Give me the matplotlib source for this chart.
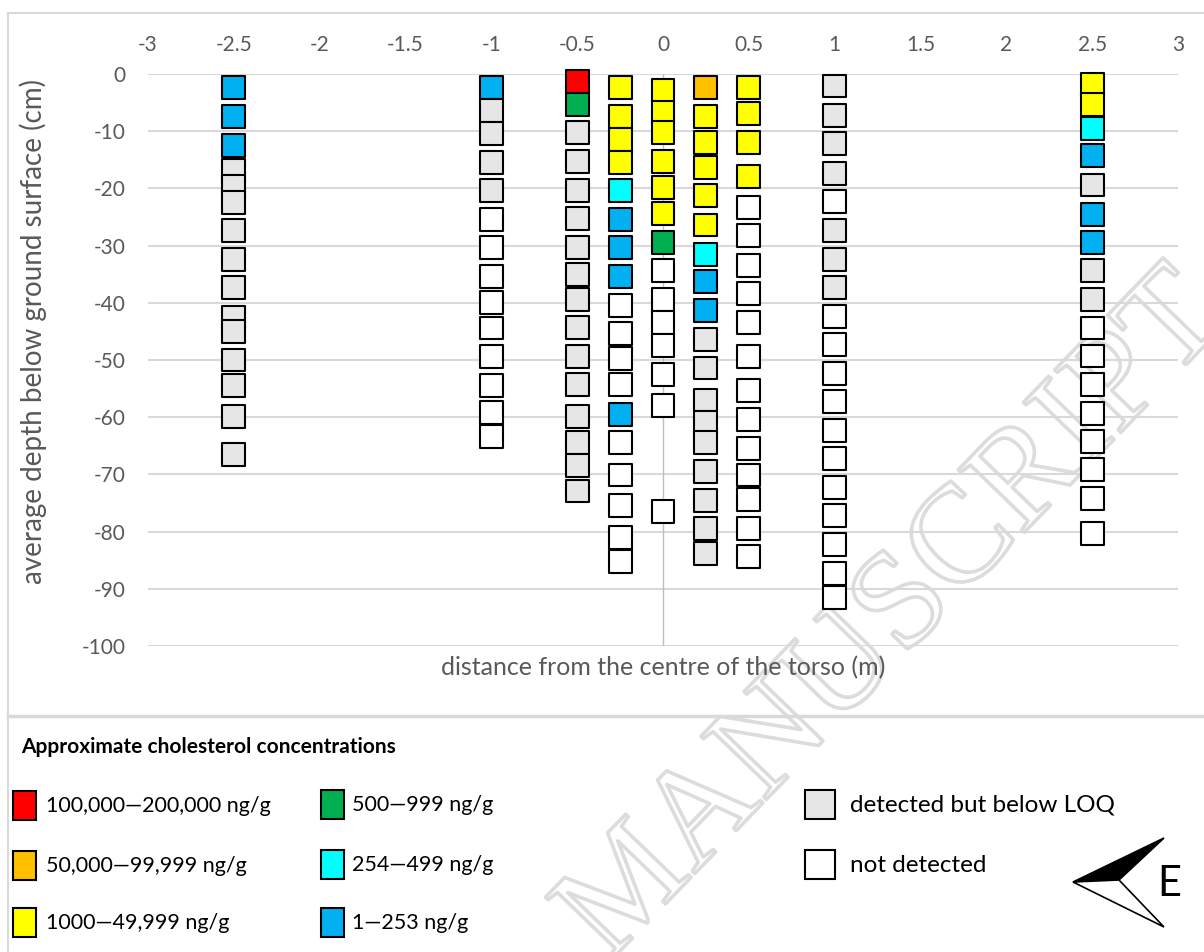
import numpy as np
import matplotlib
matplotlib.use('Agg')
import matplotlib.pyplot as plt
from matplotlib.patches import Rectangle, Polygon
import matplotlib.patheffects as pe

plt.rcParams['font.family'] = ['Lato', 'DejaVu Sans']
plt.rcParams['axes.unicode_minus'] = False

# horizontal position of each sampling column (m from torso centre)
columns = [-2.5, -1, -0.5, -0.25, 0, 0.25, 0.5, 1, 2.5]

# average sample depth (cm below surface), top to bottom for each column
depths = [
    [2.4, 7.4, 12.5, 16.9, 19.6, 22.4, 27.4, 32.4, 37.4, 42.6, 45.0, 50.0, 54.4, 59.9, 66.5],
    [2.3, 6.4, 10.4, 15.4, 20.4, 25.4, 30.4, 35.4, 39.9, 44.4, 49.4, 54.4, 59.1, 63.4],
    [1.3, 5.4, 10.3, 15.3, 20.4, 25.3, 30.4, 35.0, 39.4, 44.3, 49.4, 54.3, 59.9, 64.4, 68.5, 72.9],
    [2.3, 7.4, 11.4, 15.4, 20.4, 25.4, 30.4, 35.4, 40.4, 45.4, 49.8, 54.3, 59.5, 64.4, 70.1, 75.5, 81.1, 85.2],
    [2.9, 6.8, 10.3, 15.3, 19.8, 24.4, 29.5, 34.4, 39.4, 43.4, 47.5, 52.5, 58.0, 76.5],
    [2.4, 7.4, 11.9, 16.4, 21.3, 26.4, 31.5, 36.3, 41.4, 46.4, 51.4, 57.0, 60.9, 64.5, 69.5, 74.5, 79.5, 83.9],
    [2.4, 6.9, 11.9, 17.9, 23.3, 28.3, 33.4, 38.4, 43.4, 49.4, 55.4, 60.4, 65.4, 70.1, 74.4, 79.5, 84.4],
    [2.1, 7.3, 12.2, 17.4, 22.3, 27.3, 32.5, 37.4, 42.4, 47.3, 52.3, 57.3, 62.3, 67.3, 72.3, 77.2, 82.2, 87.3, 91.6],
    [1.9, 5.4, 9.5, 14.3, 19.4, 24.5, 29.4, 34.4, 39.4, 44.4, 49.3, 54.3, 59.3, 64.2, 69.2, 74.2, 80.3],
]

# concentration class of each sample (one letter per sample, same order as depths)
# R 100,000-200,000  O 50,000-99,999  Y 1000-49,999  G 500-999
# C 254-499  B 1-253  L detected but below LOQ  N not detected
classes = [
    "BBBLLLLLLLLLLLL",
    "BLLLLNNNNNNNNN",
    "RGLLLLLLLLLLLLLL",
    "YYYYCBBBNNNNBNNNNN",
    "YYYYYYGNNNNNNN",
    "OYYYYYCBBLLLLLLLLL",
    "YYYYNNNNNNNNNNNNN",
    "LLLLNLLLNNNNNNNNNNN",
    "YYCBLBBLLNNNNNNNN",
]

class_colors = {'R': '#FF0000', 'O': '#FFC000', 'Y': '#FFFF00', 'G': '#00B050',
                'C': '#00FFFF', 'B': '#00B0F0', 'L': '#E6E6E6', 'N': '#FFFFFF'}

legend_labels = {'R': '100,000\u2014200,000 ng/g', 'O': '50,000\u201499,999 ng/g',
                 'Y': '1000\u201449,999 ng/g', 'G': '500\u2014999 ng/g',
                 'C': '254\u2014499 ng/g', 'B': '1\u2014253 ng/g',
                 'L': 'detected but below LOQ', 'N': 'not detected'}

W, H = 1204, 952
fig = plt.figure(figsize=(W / 100, H / 100), dpi=100)
fig.patch.set_facecolor('white')

# watermark layer sits underneath the chart
wm = fig.add_axes([0, 0, 1, 1], zorder=0)
wm.set_xlim(0, W)
wm.set_ylim(H, 0)
wm.axis('off')
wm.text(895, 618, 'MANUSCRIPT', rotation=46, rotation_mode='anchor',
        ha='center', va='center', fontsize=100, family='Liberation Serif',
        color='none', path_effects=[pe.Stroke(linewidth=2.6, foreground='#DCDCDC')])

ax = fig.add_axes([148 / W, 1 - 646 / H, 1030 / W, 572 / H], zorder=1)
ax.patch.set_alpha(0)
ax.set_xlim(-3, 3)
ax.set_ylim(-100, 0)
for s in ax.spines.values():
    s.set_visible(False)
ax.set_xticks(np.arange(-3, 3.01, 0.5))
ax.set_yticks(np.arange(-100, 1, 10))
ax.xaxis.set_major_formatter(matplotlib.ticker.FuncFormatter(lambda v, p: f"{v:g}"))
ax.yaxis.set_major_formatter(matplotlib.ticker.FuncFormatter(lambda v, p: f"{v:g}"))
ax.xaxis.tick_top()
ax.tick_params(length=0, colors='#595959', labelsize=15)
ax.tick_params(axis='x', pad=14)
ax.tick_params(axis='y', pad=16)
ax.grid(axis='y', color='#D9D9D9', lw=1.5, zorder=0)
ax.set_axisbelow(True)
ax.axvline(0, color='#BFBFBF', lw=1, zorder=1)

for x, d, cls in zip(columns, depths, classes):
    ax.scatter([x] * len(d), -np.array(d), c=[class_colors[k] for k in cls],
               marker='s', s=16.5 ** 2, edgecolors='black', linewidths=1.5,
               clip_on=False, zorder=3)

# overlay in pixel coordinates for titles, frames, legend and compass
ov = fig.add_axes([0, 0, 1, 1], zorder=2)
ov.set_xlim(0, W)
ov.set_ylim(H, 0)
ov.axis('off')

ov.text(33, 331, 'average depth below ground surface (cm)', rotation=90,
        ha='center', va='center', fontsize=20, color='#595959')
ov.text(663, 668, 'distance from the centre of the torso (m)',
        ha='center', va='center', fontsize=18, color='#595959')

frame = '#D9D9D9'
ov.plot([8, W], [13, 13], color=frame, lw=1.5)
ov.plot([8, 8], [13, H], color=frame, lw=1.5)
ov.plot([8, W], [716, 716], color=frame, lw=2.5)

ov.text(21, 747, 'Approximate cholesterol concentrations', ha='left', va='center',
        fontsize=15, fontweight='bold', color='black')

legend_layout = [
    ('R', 13, 791, 23, 46, 15.5), ('O', 13, 851, 23, 46, 15.5), ('Y', 13, 908, 23, 46, 15.5),
    ('G', 321, 790, 23, 352, 15.5), ('C', 321, 850, 23, 352, 15.5), ('B', 321, 908, 23, 352, 15.5),
    ('L', 805, 790, 30, 850, 17.5), ('N', 805, 850, 30, 850, 17.5),
]
for k, lx, ly, w, tx, fs in legend_layout:
    ov.add_patch(Rectangle((lx, ly), w, 29, facecolor=class_colors[k],
                           edgecolor='black', lw=1.5))
    ov.text(tx, ly + 15, legend_labels[k], ha='left', va='center',
            fontsize=fs, color='black')

# compass arrow pointing east
ov.add_patch(Polygon([(1073, 882), (1164, 838), (1119, 880)], closed=True,
                     facecolor='black', edgecolor='black', lw=1.2))
ov.add_patch(Polygon([(1073, 882), (1119, 880), (1164, 927)], closed=True,
                     facecolor='white', edgecolor='black', lw=1.2))
ov.text(1169, 884, 'E', ha='center', va='center', fontsize=30, color='black')

fig.savefig('out.png', dpi=100)
